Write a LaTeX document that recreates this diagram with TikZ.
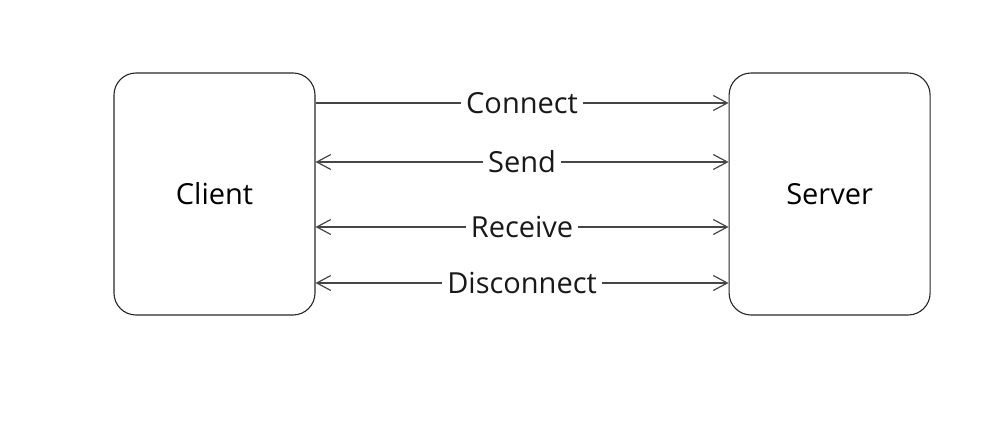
\documentclass[tikz,border=0pt]{standalone}
\usepackage{fontspec}
\setmainfont{Open Sans}
\usetikzlibrary{arrows.meta, positioning}
\definecolor{LineGray}{RGB}{70, 70, 70}

\begin{document}
\begin{tikzpicture}[x=1pt, y=-1pt, font=\fontsize{29}{34}\selectfont,
    endpoint/.style={draw=black!85, line width=1.1pt, rounded corners=22pt,
        minimum width=201pt, minimum height=242pt},
    msg/.style={draw=LineGray, line width=1.2pt},
    msglabel/.style={fill=white, inner xsep=5pt, inner ysep=2pt, text=black!90}]
    \useasboundingbox (0,0) rectangle (1002,435);

    % Client und Server
    \node[endpoint] (client) at (214.5,194) {Client};
    \node[endpoint, right=413pt of client] (server) {Server};

    % Nachrichten
    \draw[msg, -{Straight Barb[length=14pt, width=15pt]}]
        ([yshift=91pt]client.east) -- node[msglabel] {Connect} ([yshift=91pt]server.west);
    \draw[msg, {Straight Barb[length=14pt, width=15pt]}-{Straight Barb[length=14pt, width=15pt]}]
        ([yshift=32pt]client.east) -- node[msglabel] {Send} ([yshift=32pt]server.west);
    \draw[msg, {Straight Barb[length=14pt, width=15pt]}-{Straight Barb[length=14pt, width=15pt]}]
        ([yshift=-33pt]client.east) -- node[msglabel] {Receive} ([yshift=-33pt]server.west);
    \draw[msg, {Straight Barb[length=14pt, width=15pt]}-{Straight Barb[length=14pt, width=15pt]}]
        ([yshift=-89pt]client.east) -- node[msglabel] {Disconnect} ([yshift=-89pt]server.west);
\end{tikzpicture}
\end{document}
